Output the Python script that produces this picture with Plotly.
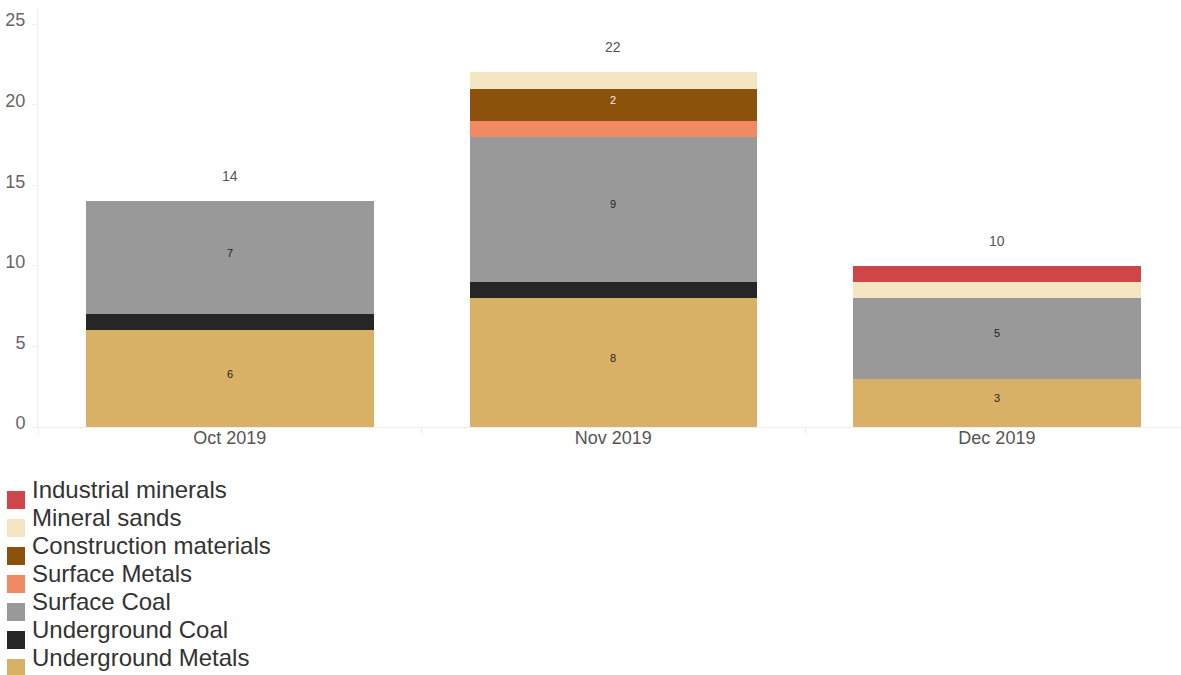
import plotly.graph_objects as go

months = ["Oct 2019", "Nov 2019", "Dec 2019"]
series_names = ["Underground Metals", "Underground Coal", "Surface Coal", "Surface Metals",
                "Construction materials", "Mineral sands", "Industrial minerals"]
underground_metals = [6, 8, 3]
underground_coal = [1, 1, 0]
surface_coal = [7, 9, 5]
surface_metals = [0, 1, 0]
construction_materials = [0, 2, 0]
mineral_sands = [0, 1, 1]
industrial_minerals = [0, 0, 1]
series_values = [underground_metals, underground_coal, surface_coal, surface_metals,
                 construction_materials, mineral_sands, industrial_minerals]
colors = ["#d9b166", "#262626", "#999999", "#ef8a62", "#8c510a", "#f5e6c3", "#d04548"]
label_colors = ["#222", "#eee", "#222", "#222", "#eee", "#222", "#eee"]
y_ticks = [0, 5, 10, 15, 20, 25]

FONT = "Liberation Sans, Arial, sans-serif"
W, H = 1181, 675
L, R, T, B = 38, 0, 8, 248
PW, PH = W - L - R, H - T - B


def px_x(px):
    return (px - L) / PW


def px_y(py):
    return (H - B - py) / PH


fig = go.Figure()
bases = [0] * len(months)
for name, vals, col, lc in zip(series_names, series_values, colors, label_colors):
    fig.add_trace(go.Bar(
        x=months, y=[v if v else None for v in vals], name=name,
        marker=dict(color=col, line=dict(width=0)),
        showlegend=False, hoverinfo="skip",
    ))
    for i, (m, v) in enumerate(zip(months, vals)):
        if v >= 2:
            fig.add_annotation(x=m, y=bases[i] + v / 2, text=str(v), showarrow=False,
                               yshift=5, font=dict(size=11, color=lc, family=FONT))
        bases[i] += v

totals = [sum(s[i] for s in series_values) for i in range(len(months))]
for m, t in zip(months, totals):
    fig.add_annotation(x=m, y=t, text=str(t), showarrow=False, yshift=25,
                       font=dict(size=14, color="#555", family=FONT))

# custom legend (reversed order)
top_center = 489
for k, (name, col) in enumerate(zip(series_names[::-1], colors[::-1])):
    cy = top_center + 28 * k
    fig.add_annotation(xref="paper", yref="paper", x=px_x(30), y=px_y(cy),
                       xanchor="left", yanchor="middle", text=name, showarrow=False,
                       font=dict(size=24, color="#333", family=FONT))
    fig.add_shape(type="rect", xref="paper", yref="paper",
                  x0=px_x(7), x1=px_x(25), y0=px_y(cy + 2), y1=px_y(cy + 20),
                  fillcolor=col, line=dict(width=0))

fig.update_layout(
    width=W, height=H, barmode="stack", bargap=0.25,
    margin=dict(l=L, r=R, t=T, b=B, pad=0),
    paper_bgcolor="white", plot_bgcolor="white",
    font=dict(family=FONT),
    showlegend=False,
    xaxis=dict(range=[-0.5, 2.48], showline=True, linecolor="#eeeeee", linewidth=1,
               ticks="outside", tickson="boundaries", ticklen=6, tickcolor="#eeeeee",
               showgrid=False, zeroline=False, ticklabelstandoff=-6,
               tickfont=dict(size=18, color="#555", family=FONT)),
    yaxis=dict(range=[0, 26], showline=True, linecolor="#eeeeee", linewidth=1,
               ticks="outside", ticklen=5, tickcolor="#eeeeee",
               tickvals=y_ticks, showgrid=False, zeroline=False, ticklabelshift=-4,
               ticklabelstandoff=3,
               tickfont=dict(size=18, color="#666", family=FONT)),
)

fig.write_html("out.html")
